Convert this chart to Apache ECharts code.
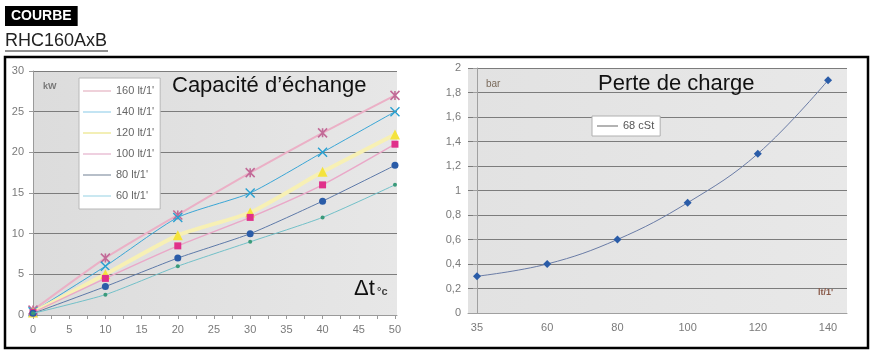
<!DOCTYPE html>
<html><head><meta charset="utf-8">
<script src="https://cdn.jsdelivr.net/npm/echarts@6/dist/echarts.min.js"></script>
<style>html,body{margin:0;padding:0;background:#fff;}#c{width:873px;height:359px;}</style>
</head><body><div id="c"></div>
<script>
// ---- data (left chart: Capacité d'échange) ----
const dtValues = [0, 10, 20, 30, 40, 50];
const leftXTickLabels = [0, 5, 10, 15, 20, 25, 30, 35, 40, 45, 50];
const leftXMinorTicks = [0, 2.5, 5, 7.5, 10, 12.5, 15, 17.5, 20, 22.5, 25, 27.5, 30, 32.5, 35, 37.5, 40, 42.5, 45, 47.5, 50];
const seriesNames = ["160 lt/1'", "140 lt/1'", "120 lt/1'", "100 lt/1'", "80 lt/1'", "60 lt/1'"];
const kw160 = [0.6, 7.0, 12.3, 17.5, 22.4, 27.0];
const kw140 = [0.4, 6.0, 12.0, 15.0, 20.0, 25.0];
const kw120 = [0.3, 5.0, 9.8, 12.6, 17.6, 22.2];
const kw100 = [0.3, 4.5, 8.5, 12.0, 16.0, 21.0];
const kw80  = [0.2, 3.5, 7.0, 10.0, 14.0, 18.4];
const kw60  = [0.2, 2.5, 6.0, 9.0, 12.0, 16.0];
// ---- data (right chart: Perte de charge) ----
const flowLabels = ["35", "60", "80", "100", "120", "140"];
const bar68cSt = [0.3, 0.4, 0.6, 0.9, 1.3, 1.9];
const rightSeriesName = "68 cSt";

const kwSets = [kw160, kw140, kw120, kw100, kw80, kw60];
const styles = [
  {line:'#ebb0c6', lw:2, mk:'#c26b98', sym:'path://M0,0L10,10M10,0L0,10M5,0L5,10', size:9, bw:1.6, leg:'#dfa3b5'},
  {line:'#3aa6d6', lw:1, mk:'#2aa0d0', sym:'path://M0,0L10,10M10,0L0,10', size:9, bw:1.4, leg:'#86c8e6'},
  {line:'#f7f0b4', lw:4, mk:'#f4e33c', sym:'triangle', size:10, bw:0, leg:'#e6df6c'},
  {line:'#eaa8c8', lw:1.5, mk:'#e0308a', sym:'rect', size:7, bw:0, leg:'#dea1c0'},
  {line:'#5d79a8', lw:1, mk:'#2a5ca8', sym:'circle', size:7, bw:0, leg:'#6f7f92'},
  {line:'#72c0c8', lw:1, mk:'#3a9a7a', sym:'circle', size:4, bw:0, leg:'#94d0e2'}
];
const fmtComma = v => Number(v.toFixed(1)).toString().replace('.', ',');
const labelColor = '#7a7a7a';
const FF = '"Liberation Sans", Arial, sans-serif';

const leftSeries = seriesNames.map((n, i) => ({
  name: n, type: 'line', xAxisIndex: 0, yAxisIndex: 0, smooth: 0.2,
  data: dtValues.map((x, j) => [x, kwSets[i][j]]),
  symbol: styles[i].sym, symbolSize: styles[i].size, showSymbol: true,
  lineStyle: {color: styles[i].line, width: styles[i].lw},
  itemStyle: {color: styles[i].mk, borderColor: styles[i].mk, borderWidth: styles[i].bw},
  z: 3 + i
}));

const option = {
  animation: false,
  backgroundColor: '#fff',
  textStyle: {fontFamily: FF},
  grid: [
    {left: 33, top: 71, width: 364, height: 244, show: true, borderWidth: 0,
     backgroundColor: {type:'linear', x:0, y:0, x2:1, y2:0, colorStops:[{offset:0,color:'#dcdcdc'},{offset:1,color:'#e7e7e7'}]}},
    {left: 468, top: 68, width: 379, height: 245, show: true, borderWidth: 0,
     backgroundColor: {type:'linear', x:0, y:0, x2:1, y2:0, colorStops:[{offset:0,color:'#e2e2e2'},{offset:1,color:'#e8e8e8'}]}}
  ],
  xAxis: [
    {type: 'value', gridIndex: 0, min: 0, max: 50.28,
     axisLine: {show: true, lineStyle: {color: '#9a9a9a'}},
     axisTick: {show: true, length: 4, customValues: leftXMinorTicks, lineStyle: {color: '#9a9a9a'}},
     axisLabel: {customValues: leftXTickLabels, color: labelColor, fontSize: 11, margin: 9, fontFamily: FF},
     splitLine: {show: false}},
    {type: 'value', gridIndex: 1, min: -0.128, max: 5.27,
     axisLine: {show: true, lineStyle: {color: '#a0a0a0'}},
     axisTick: {show: false},
     axisLabel: {customValues: [0,1,2,3,4,5], formatter: v => flowLabels[Math.round(v)], color: labelColor, fontSize: 11, margin: 9, fontFamily: FF},
     splitLine: {show: false}}
  ],
  yAxis: [
    {type: 'value', gridIndex: 0, min: 0, max: 30, interval: 5,
     axisLine: {show: true, lineStyle: {color: '#9a9a9a'}},
     axisTick: {show: true, length: 4, lineStyle: {color: '#9a9a9a'}},
     axisLabel: {color: labelColor, fontSize: 11, margin: 9, fontFamily: FF},
     splitLine: {show: true, lineStyle: {color: '#7c7c7c', width: 1}}},
    {type: 'value', gridIndex: 1, min: 0, max: 2, interval: 0.2,
     axisLine: {show: true, lineStyle: {color: '#a0a0a0'}},
     axisTick: {show: true, length: 4, lineStyle: {color: '#a0a0a0'}},
     axisLabel: {formatter: fmtComma, color: labelColor, fontSize: 11, margin: 7, fontFamily: FF},
     splitLine: {show: true, lineStyle: {color: '#7c7c7c', width: 1}}}
  ],
  legend: [
    {data: seriesNames.map((n, i) => ({name: n, itemStyle: {color: styles[i].leg, borderWidth: 0}})),
     orient: 'vertical', left: 79, top: 78, icon: 'rect', itemWidth: 28, itemHeight: 1, itemGap: 7,
     padding: [6, 6, 6, 4], backgroundColor: '#fff', borderColor: '#b8b8b8', borderWidth: 1,
     textStyle: {color: '#666', fontSize: 11, lineHeight: 14, fontFamily: FF}, selectedMode: false},
    {data: [{name: rightSeriesName, itemStyle: {color: '#666', borderWidth: 0}}],
     orient: 'horizontal', left: 592, top: 116, icon: 'rect', itemWidth: 21, itemHeight: 1, itemGap: 4,
     padding: [3, 6, 3, 5], backgroundColor: '#fff', borderColor: '#b0b0b0', borderWidth: 1,
     textStyle: {color: '#555', fontSize: 11, lineHeight: 14, fontFamily: FF}, selectedMode: false}
  ],
  title: [
    {text: 'Capacité d’échange', left: 172, top: 75, textStyle: {fontSize: 22, fontWeight: 'normal', color: '#111', fontFamily: FF}, padding: 0},
    {text: 'Perte de charge', left: 598, top: 73, textStyle: {fontSize: 22, fontWeight: 'normal', color: '#111', fontFamily: FF}, padding: 0},
    {text: 'kW', left: 43, top: 82, textStyle: {fontSize: 9, fontWeight: 'bold', color: '#777', fontFamily: FF}, padding: 0},
    {text: 'bar', left: 486, top: 79, textStyle: {fontSize: 10, fontWeight: 'normal', color: '#7a6a5a', fontFamily: FF}, padding: 0},
    {text: 'lt/1\'', left: 818, top: 288, textStyle: {fontSize: 9, fontWeight: 'bold', color: '#8a5a4a', fontFamily: FF}, padding: 0},
    {text: 'Δt', left: 354, top: 278, textStyle: {fontSize: 22, fontWeight: 'normal', color: '#111', fontFamily: FF}, padding: 0},
    {text: '°c', left: 377, top: 286, textStyle: {fontSize: 11, fontWeight: 'bold', color: '#444', fontFamily: FF}, padding: 0},
    {text: 'COURBE', left: 5, top: 6, backgroundColor: '#000', padding: [3, 6, 3, 6], textStyle: {fontSize: 14, fontWeight: 'bold', color: '#fff', fontFamily: FF}}
  ],
  graphic: [
    {type: 'text', left: 5, top: 32, style: {text: 'RHC160AxB', font: '18px "Liberation Sans", Arial, sans-serif', fill: '#222'}},
    {type: 'line', shape: {x1: 5, y1: 51, x2: 108, y2: 51}, style: {stroke: '#222', lineWidth: 1.2}},
    {type: 'rect', shape: {x: 5, y: 57, width: 863, height: 291}, style: {fill: 'none', stroke: '#000', lineWidth: 2.5}, z: 100}
  ],
  series: leftSeries.concat([{
    name: rightSeriesName, type: 'line', xAxisIndex: 1, yAxisIndex: 1, smooth: 0.4,
    data: bar68cSt.map((v, i) => [i, v]),
    symbol: 'diamond', symbolSize: 8,
    lineStyle: {color: '#6a7ca6', width: 1},
    itemStyle: {color: '#2a5ca8'}
  }])
};
const chart = echarts.init(document.getElementById('c'), null, {renderer: 'canvas'});
chart.setOption(option);
</script></body></html>
